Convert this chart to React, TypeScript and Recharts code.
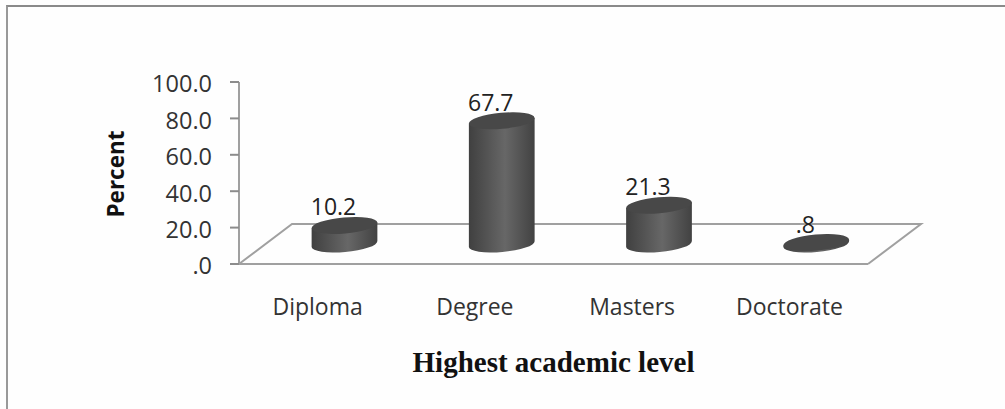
import React from "react";
import { ComposedChart, Bar, XAxis, YAxis, LabelList, Label, usePlotArea } from "recharts";

const levels = ["Diploma", "Degree", "Masters", "Doctorate"];
const percents = [10.2, 67.7, 21.3, 0.8];
const yTicks = [0, 20, 40, 60, 80, 100];

const rows = levels.map((level, i) => ({ level, percent: percents[i] }));

const AXIS_GREY = "#a0a0a0";
const LABEL_FONT = "'Open Sans', sans-serif";
const DEPTH_X = 53;
const DEPTH_Y = 40;
const TILT = 5;
const ELLIPSE_RY = 8;
const HEIGHT_FACTOR = 1;

const noLeadingZero = (v: number) => String(v).replace(/^0\./, ".");
const tickText = (v: number) => (v === 0 ? ".0" : v.toFixed(1));

// Oblique floor behind the bars, drawn from the plot rectangle.
function Floor() {
  const area = usePlotArea();
  if (!area) return null;
  const left = area.x;
  const right = area.x + area.width;
  const base = area.y + area.height;
  const points = [
    [left, base],
    [left + DEPTH_X, base - DEPTH_Y],
    [right + DEPTH_X, base - DEPTH_Y],
    [right, base],
  ]
    .map((p) => p.join(","))
    .join(" ");
  return <polyline points={points} fill="none" stroke={AXIS_GREY} strokeWidth={2} />;
}

// Tilted cylinder standing in the middle of the floor's depth.
function Cylinder(props: any) {
  const { x, y, width, height } = props;
  const cx = x + width / 2 + DEPTH_X / 2;
  const bottom = y + height - DEPTH_Y / 2;
  const top = bottom - height * HEIGHT_FACTOR;
  const rx = width / 2;
  const dy = rx * Math.sin((TILT * Math.PI) / 180);
  const dx = rx * Math.cos((TILT * Math.PI) / 180);
  const body =
    `M${cx - dx},${top + dy} L${cx - dx},${bottom + dy} ` +
    `A${rx},${ELLIPSE_RY} ${-TILT} 0 0 ${cx + dx},${bottom - dy} ` +
    `L${cx + dx},${top - dy} Z`;
  return (
    <g>
      <path d={body} fill="url(#cylinderSide)" />
      <ellipse
        cx={cx}
        cy={top}
        rx={rx}
        ry={ELLIPSE_RY}
        fill="#484848"
        transform={`rotate(${-TILT} ${cx} ${top})`}
      />
    </g>
  );
}

function ValueLabel(props: any) {
  const { x, y, width, height, value } = props;
  const cx = x + width / 2 + DEPTH_X / 2 - 11;
  const bottom = y + height - DEPTH_Y / 2;
  const top = bottom - height * HEIGHT_FACTOR;
  return (
    <text
      x={cx}
      y={top - 10}
      textAnchor="middle"
      fontFamily={LABEL_FONT}
      fontSize={23}
      fill="#222222"
    >
      {noLeadingZero(value)}
    </text>
  );
}

export default function App() {
  return (
    <div style={{ position: "absolute", left: 0, top: 0, width: 1005, height: 409, background: "#fefefe" }}>
      <div
        style={{
          position: "absolute",
          left: 6,
          top: 5,
          width: 999,
          height: 404,
          boxSizing: "border-box",
          borderLeft: "2px solid #999999",
          borderTop: "2px solid #8a8a8a",
        }}
      />
      <ComposedChart
        width={1005}
        height={409}
        data={rows}
        margin={{ top: 82, right: 137, bottom: 0, left: 0 }}
        style={{ position: "absolute", left: 0, top: 0 }}
      >
        <defs>
          <linearGradient id="cylinderSide" x1="0" y1="0" x2="1" y2="0">
            <stop offset="0%" stopColor="#404040" />
            <stop offset="55%" stopColor="#676767" />
            <stop offset="100%" stopColor="#424242" />
          </linearGradient>
        </defs>
        <Floor />
        <XAxis
          dataKey="level"
          height={145}
          tickLine={false}
          axisLine={{ stroke: AXIS_GREY, strokeWidth: 2 }}
          tick={{ fontFamily: LABEL_FONT, fontSize: 23, fill: "#333333" }}
          tickMargin={29}
          interval={0}
        >
          <Label
            value="Highest academic level"
            position="insideBottom"
            offset={37}
            fontFamily="'Liberation Serif', serif"
            fontWeight="bold"
            fontSize={29}
            fill="#111111"
          />
        </XAxis>
        <YAxis
          width={239}
          domain={[0, 100]}
          ticks={yTicks}
          tickFormatter={tickText}
          tickSize={9}
          tickMargin={18}
          tickLine={{ stroke: "#8c8c8c", strokeWidth: 2 }}
          axisLine={{ stroke: AXIS_GREY, strokeWidth: 2 }}
          tick={{ fontFamily: LABEL_FONT, fontSize: 23.5, fill: "#333333", dy: 2 }}
        >
          <Label
            value="Percent"
            angle={-90}
            position="insideLeft"
            offset={116}
            textAnchor="middle"
            dy={1}
            fontFamily={LABEL_FONT}
            fontWeight="bold"
            fontSize={22.5}
            fill="#111111"
          />
        </YAxis>
        <Bar dataKey="percent" barSize={66} shape={Cylinder} isAnimationActive={false}>
          <LabelList dataKey="percent" content={ValueLabel} />
        </Bar>
      </ComposedChart>
    </div>
  );
}
